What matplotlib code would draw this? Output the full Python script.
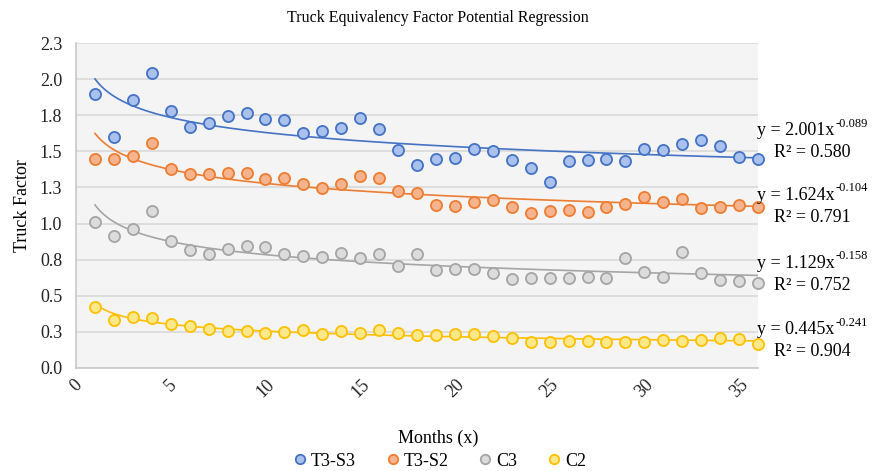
import numpy as np
import matplotlib
matplotlib.use("Agg")
import matplotlib.pyplot as plt

plt.rcParams['font.family'] = ['Liberation Serif', 'DejaVu Serif']

months = list(range(1, 37))

t3s3 = [1.895, 1.602, 1.858, 2.041, 1.780, 1.667, 1.699, 1.747, 1.764, 1.722, 1.717, 1.630,
        1.643, 1.664, 1.729, 1.653, 1.507, 1.406, 1.445, 1.454, 1.519, 1.500, 1.440, 1.383,
        1.286, 1.431, 1.438, 1.447, 1.431, 1.517, 1.512, 1.551, 1.577, 1.535, 1.461, 1.450]
t3s2 = [1.445, 1.445, 1.466, 1.560, 1.380, 1.346, 1.346, 1.350, 1.348, 1.307, 1.316, 1.274,
        1.247, 1.272, 1.330, 1.313, 1.226, 1.212, 1.129, 1.124, 1.147, 1.161, 1.117, 1.076,
        1.090, 1.094, 1.080, 1.117, 1.138, 1.184, 1.150, 1.173, 1.110, 1.117, 1.131, 1.117]
c3 = [1.013, 0.916, 0.965, 1.090, 0.880, 0.819, 0.787, 0.824, 0.847, 0.840, 0.792, 0.774,
      0.766, 0.799, 0.762, 0.790, 0.706, 0.787, 0.681, 0.686, 0.683, 0.660, 0.616, 0.623,
      0.623, 0.621, 0.628, 0.621, 0.762, 0.667, 0.633, 0.806, 0.660, 0.607, 0.603, 0.589]
c2 = [0.420, 0.335, 0.351, 0.344, 0.305, 0.293, 0.268, 0.258, 0.256, 0.245, 0.247, 0.261,
      0.233, 0.256, 0.245, 0.263, 0.240, 0.226, 0.231, 0.233, 0.238, 0.219, 0.206, 0.182,
      0.178, 0.187, 0.184, 0.180, 0.180, 0.182, 0.192, 0.187, 0.194, 0.206, 0.201, 0.168]

names = ['T3-S3', 'T3-S2', 'C3', 'C2']
coef_a = [2.001, 1.624, 1.129, 0.445]
coef_b = [-0.089, -0.104, -0.158, -0.241]
r2 = ['0.580', '0.791', '0.752', '0.904']

edge_colors = ['#4472C4', '#ED7D31', '#A5A5A5', '#FFC000']
fill_colors = ['#A9C1EC', '#F6B48E', '#DCDCDC', '#FFE88A']

fig = plt.figure(figsize=(8.76, 4.71), dpi=100)
ax = fig.add_axes([0.0868, 0.2187, 0.7785, 0.69])
ax.set_facecolor('#F4F4F4')

series = [t3s3, t3s2, c3, c2]
xx = np.linspace(1, 36, 200)
for vals, name, a, b, ec, fc in zip(series, names, coef_a, coef_b, edge_colors, fill_colors):
    ax.plot(xx, a * xx ** b, color=ec, lw=1.2, zorder=2)
    ax.plot(months, vals, 'o', ms=8, mfc=fc, mec=ec, mew=1.3, label=name, zorder=3,
            clip_on=False)

ax.set_xlim(0, 36)
ax.set_ylim(0, 2.25)
yt = [0, 0.25, 0.5, 0.75, 1.0, 1.25, 1.5, 1.75, 2.0, 2.25]
ax.set_yticks(yt)
ax.set_yticklabels(['0.0', '0.3', '0.5', '0.8', '1.0', '1.3', '1.5', '1.8', '2.0', '2.3'])
ax.set_xticks(range(0, 36, 5))
ax.tick_params(axis='both', length=0, labelsize=13, colors='#222222')
ax.tick_params(axis='y', pad=10)
ax.tick_params(axis='x', rotation=45, pad=6)
ax.grid(axis='y', color='#D9D9D9', lw=1.2)
ax.set_axisbelow(True)
for s in ['top', 'right']:
    ax.spines[s].set_visible(False)
for s in ['left', 'bottom']:
    ax.spines[s].set_color('#C8C8C8')
    ax.spines[s].set_linewidth(1.2)

fig.text(0.5, 1 - 18 / 471, 'Truck Equivalency Factor Potential Regression',
         fontsize=11.5, ha='center', va='center')
ax.set_ylabel('Truck Factor', fontsize=13, labelpad=6)
fig.text(0.5, 1 - 438 / 471, 'Months (x)', fontsize=13, ha='center', va='center')

# trendline equations, superscript drawn as a separate small text
eq_y = [131, 195, 263, 330]
r_y = [153, 218, 286, 351]
fig.canvas.draw()
renderer = fig.canvas.get_renderer()
for a, b, r, ey, ry in zip(coef_a, coef_b, r2, eq_y, r_y):
    t = fig.text(757 / 876, 1 - ey / 471, 'y = %.3fx' % a, fontsize=13, va='center')
    bb = t.get_window_extent(renderer)
    fig.text(bb.x1 / 876 + 0.001, 1 - (ey - 7) / 471, '%.3f' % b, fontsize=9, va='center')
    fig.text(774 / 876, 1 - ry / 471, 'R² = ' + r, fontsize=13, va='center')

fig.legend(loc='center', bbox_to_anchor=(0.5, 1 - 461 / 471), ncol=4, frameon=False,
           fontsize=13, handletextpad=0.05, columnspacing=1.5, borderpad=0, handlelength=1.1,
           markerscale=0.85)

fig.savefig('out.png', dpi=100)
